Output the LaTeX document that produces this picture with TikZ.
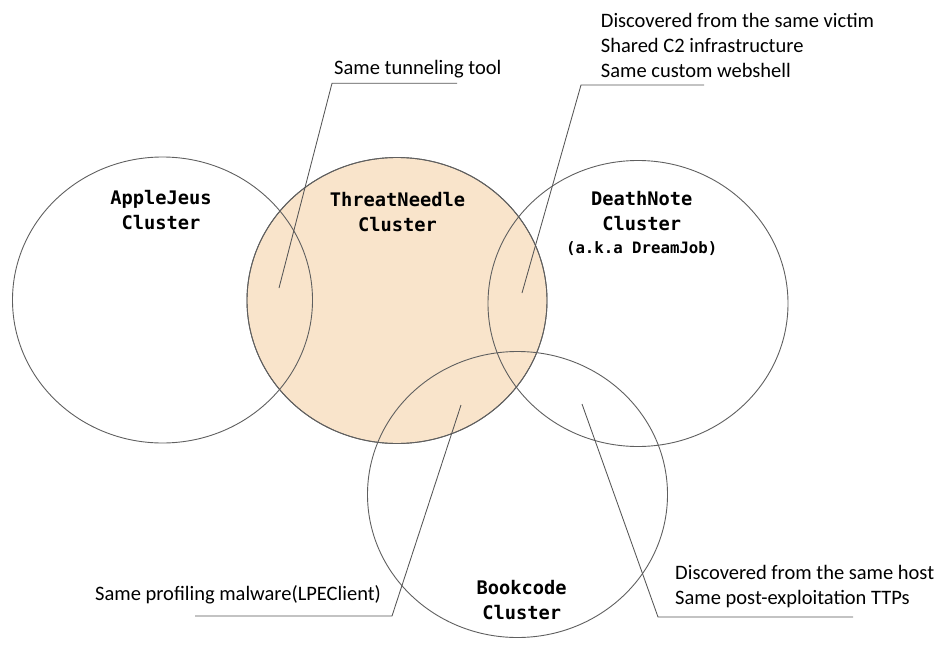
\documentclass[tikz,border=0pt]{standalone}
\usepackage{fontspec}
\setmainfont{Carlito}
\newfontfamily\clmono{DejaVu Sans Mono}
\usetikzlibrary{shapes.geometric}
\definecolor{ringgray}{HTML}{5F5F5F}
\definecolor{leadgray}{HTML}{555555}
\definecolor{peach}{HTML}{F9E4CB}
\begin{document}
\begin{tikzpicture}[x=1pt,y=-1pt,
  ring/.style={ellipse,draw=ringgray,line width=0.9pt,minimum width=300pt,minimum height=286pt,inner sep=0pt},
  clabel/.style={align=center,inner sep=0pt,font=\clmono\bfseries\fontsize{18.7}{25}\selectfont},
  note/.style={align=left,anchor=west,inner sep=0pt,font=\fontsize{20.5}{25}\selectfont},
  leader/.style={draw=leadgray,line width=0.85pt}]
\useasboundingbox (0,0) rectangle (948,648);
% filled circle first
\node[ring,fill=peach] (tn) at (397,300.5) {};
\node[ring] (aj) at (162.5,300) {};
\node[ring] (dn) at (638,303.5) {};
\node[ring] (bc) at (517.5,494.5) {};
\node[ring,fill=none] (tn2) at (397,300.5) {};
% cluster labels
\node[clabel] (ajl) at (161,210) {AppleJeus\\Cluster};
\node[clabel] (tnl) at (397.5,212) {ThreatNeedle\\Cluster};
\node[clabel,anchor=north] (dnl) at (641.7,191) {DeathNote\\Cluster\\[-2pt]{\fontsize{15.7}{20}\selectfont (a.k.a DreamJob)}};
\node[clabel] (bcl) at (521.7,600.5) {Bookcode\\Cluster};
% notes
\node[note] (tun) at (334,69) {Same tunneling tool};
\node[note] (vic) at (600.7,45) {Discovered from the same victim\\Shared C2 infrastructure\\Same custom webshell};
\node[note] (lpe) at (95,595) {Same profiling malware(LPEClient)};
\node[note] (hst) at (675,587) {Discovered from the same host\\Same post-exploitation TTPs};
% leader coordinates
\coordinate (tunEnd) at (279,288);
\coordinate (tunKnee) at (332,83.3);
\coordinate (tunTail) at (457,83.3);
\coordinate (vicEnd) at (522,293);
\coordinate (vicKnee) at (581,85);
\coordinate (vicTail) at (704,85);
\coordinate (lpeEnd) at (461,405);
\coordinate (lpeKnee) at (392,616);
\coordinate (lpeTail) at (195,616);
\coordinate (hstEnd) at (582,404);
\coordinate (hstKnee) at (658,617);
\coordinate (hstTail) at (853,617);
\draw[leader] (tunEnd) -- (tunKnee) -- (tunTail);
\draw[leader] (vicEnd) -- (vicKnee) -- (vicTail);
\draw[leader] (lpeEnd) -- (lpeKnee) -- (lpeTail);
\draw[leader] (hstEnd) -- (hstKnee) -- (hstTail);
\end{tikzpicture}
\end{document}
